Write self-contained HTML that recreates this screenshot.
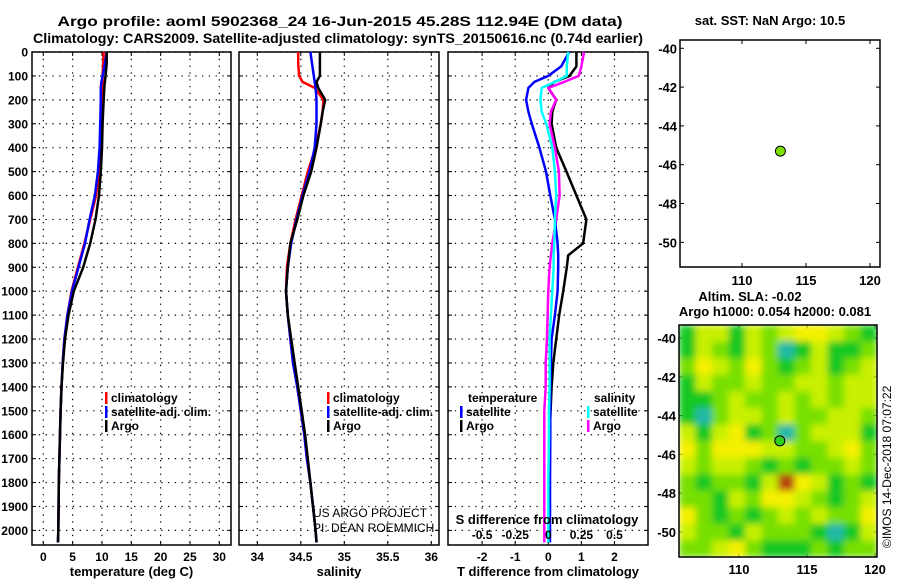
<!DOCTYPE html>
<html><head><meta charset="utf-8"><style>
html,body{margin:0;padding:0;background:#fff;}
svg{display:block;font-family:"Liberation Sans",sans-serif;}
.t{font-weight:bold;font-size:12px;}
</style></head><body>
<svg id="c" width="900" height="580" viewBox="0 0 900 580" xmlns="http://www.w3.org/2000/svg">
<defs>
<clipPath id="clipMap"><rect x="679" y="325" width="198" height="232"/></clipPath>
<filter id="blurMap" filterUnits="userSpaceOnUse" x="679" y="325" width="198" height="232"><feGaussianBlur stdDeviation="3.5" edgeMode="duplicate"/></filter>
</defs>
<text x="340" y="26" text-anchor="middle" font-size="14" font-weight="bold" textLength="565" lengthAdjust="spacingAndGlyphs">Argo profile: aoml 5902368_24 16-Jun-2015 45.28S 112.94E (DM data)</text>
<text x="338" y="43" text-anchor="middle" font-size="13.5" font-weight="bold" textLength="610" lengthAdjust="spacingAndGlyphs">Climatology: CARS2009. Satellite-adjusted climatology: synTS_20150616.nc (0.74d earlier)</text>
<g id="plots"></g>
</svg>
<script>
// ---- profile data ----
const depth = [0,50,100,125,150,200,250,300,400,500,600,700,800,900,1000,1100,1200,1300,1400,1500,1600,1700,1800,1900,2000,2050];
const tClim = [10.3,10.2,10.1,10.1,10.0,10.0,9.95,9.9,9.8,9.5,9.0,8.0,7.0,5.9,4.8,4.1,3.6,3.3,3.1,2.95,2.85,2.75,2.65,2.6,2.55,2.5];
const tSat  = [10.8,10.5,10.1,9.9,9.8,9.8,9.75,9.7,9.6,9.3,8.8,7.9,7.1,6.0,4.9,4.1,3.6,3.3,3.1,2.95,2.85,2.75,2.65,2.6,2.55,2.5];
const tArgo = [10.8,10.8,10.6,10.5,10.4,10.3,10.2,10.1,10.0,9.8,9.5,8.9,8.0,6.8,5.2,4.3,3.7,3.35,3.1,2.95,2.85,2.75,2.65,2.6,2.55,2.5];
const sClim = [34.47,34.47,34.48,34.52,34.66,34.76,34.75,34.73,34.67,34.58,34.51,34.44,34.38,34.34,34.33,34.35,34.38,34.41,34.46,34.5,34.54,34.57,34.61,34.64,34.67,34.68];
const sSat  = [34.61,34.63,34.65,34.66,34.67,34.68,34.68,34.68,34.66,34.6,34.52,34.45,34.39,34.35,34.33,34.35,34.38,34.41,34.46,34.5,34.54,34.57,34.61,34.64,34.67,34.68];
const sArgo = [34.72,34.72,34.72,34.68,34.70,34.78,34.75,34.73,34.68,34.62,34.53,34.46,34.38,34.35,34.33,34.35,34.39,34.43,34.47,34.51,34.55,34.58,34.61,34.64,34.67,34.68];
const depthDiff = [0,60,100,125,150,200,250,300,400,500,600,700,800,850,900,1000,1100,1200,1300,1400,1500,1600,1800,2000,2050];
const dTArgo = [0.85,0.85,0.64,0.18,0.0,0.24,0.12,0.1,0.24,0.55,0.85,1.15,1.05,0.6,0.56,0.45,0.33,0.24,0.15,0.1,0.07,0.04,0.02,0.01,0.0];
const dTSat  = [0.63,0.39,0.0,-0.42,-0.6,-0.67,-0.6,-0.5,-0.27,-0.07,0.06,0.2,0.28,0.3,0.3,0.28,0.2,0.1,0.08,0.06,0.06,0.06,0.05,0.05,0.05];
const dSSat  = [0.15,0.14,0.14,0.05,-0.05,-0.06,-0.05,-0.015,0.03,0.05,0.06,0.05,0.045,0.04,0.04,0.03,0.02,0.01,0.01,0.01,0.005,0.005,0.0,0.0,0.0];
const dSArgo = [0.27,0.25,0.23,0.12,0.0,0.06,0.02,0.01,0.05,0.08,0.085,0.06,0.03,0.02,0.01,0.0,-0.005,-0.01,-0.02,-0.02,-0.03,-0.03,-0.03,-0.03,-0.03];
const depthTicks = [0,100,200,300,400,500,600,700,800,900,1000,1100,1200,1300,1400,1500,1600,1700,1800,1900,2000];
const tTicks = [0,5,10,15,20,25,30];
const sTicks = [34,34.5,35,35.5,36];
const sTickLabels = ["34","34.5","35","35.5","36"];
const dtTicks = [-2,-1,0,1,2];
const dsTicks = [-0.5,-0.25,0,0.25,0.5];
const dsTickLabels = ["-0.5","-0.25","0","0.25","0.5"];
// ---- map data ----
const mapLonTicks = [110,115,120];
const mapLatTicks = [-40,-42,-44,-46,-48,-50];
const floatLon = 113;
const floatLat = -45.3;
const slaGrid = [
[1,3,3,1,3,2,3,4,4,3,2,1],
[1,3,2,1,3,2,0,1,3,1,1,2],
[2,4,3,2,4,2,1,2,3,1,2,3],
[1,3,2,2,3,2,2,3,3,2,3,3],
[1,1,2,3,2,2,3,2,3,2,3,3],
[1,0,2,3,3,2,3,2,2,3,3,2],
[3,1,3,4,1,2,0,2,3,3,3,1],
[4,2,4,4,4,3,3,2,2,3,4,2],
[3,2,3,3,2,1,2,1,2,2,3,2],
[2,1,2,2,1,3,6,4,3,1,2,1],
[2,2,1,3,2,4,4,3,2,1,2,3],
[4,2,1,2,1,2,3,2,3,2,2,4],
[3,2,2,1,3,2,2,2,1,0,1,3],
[2,2,3,4,2,1,1,1,2,1,2,2]];
const levelColors = ['#20b8a8','#18c820','#78e000','#c8f000','#f4f000','#f0a000','#b84010'];

const NS='http://www.w3.org/2000/svg';
const root=document.getElementById('plots');
function el(tag,attrs,parent,text){const e=document.createElementNS(NS,tag);for(const k in attrs)e.setAttribute(k,attrs[k]);if(text!==undefined)e.textContent=text;(parent||root).appendChild(e);return e;}
const Y0=52, YB=545, PXM=0.2392;
const yD=d=>Y0+d*PXM;

function panel(name,x0,x1,xs,ticks,labels,xlabel){
  const g=el('g',{});
  
  
  depthTicks.forEach(d=>{const l=el('line',{x1:x0,x2:x1,y1:yD(d),y2:yD(d),stroke:'#000','stroke-width':1.2,'stroke-dasharray':'1.3,5.5'},g);
    el('line',{x1:x0,x2:x0+4,y1:yD(d),y2:yD(d),stroke:'#000'},g);el('line',{x1:x1-4,x2:x1,y1:yD(d),y2:yD(d),stroke:'#000'},g);});
  ticks.forEach((t,i)=>{const x=xs(t);const l=el('line',{x1:x,x2:x,y1:Y0,y2:YB,stroke:'#000','stroke-width':1.2,'stroke-dasharray':'1.3,5.5'},g);
    el('line',{x1:x,x2:x,y1:YB-4,y2:YB,stroke:'#000'},g);el('line',{x1:x,x2:x,y1:Y0,y2:Y0+4,stroke:'#000'},g);
    if(labels){const tx=el('text',{x:x,y:561,'text-anchor':'middle',class:'t'},g,labels[i]);}});
  const r=el('rect',{x:x0,y:Y0,width:x1-x0,height:YB-Y0,fill:'none',stroke:'#000','stroke-width':1.5},g);
  
  if(xlabel){const tx=el('text',{x:(x0+x1)/2,y:576,'text-anchor':'middle',class:'t',style:'font-size:13px'},g,xlabel);}
  return g;
}
function line(g,xs,vals,ds,color,name){
  const pts=vals.map((v,i)=>xs(v).toFixed(1)+','+yD(ds[i]).toFixed(1)).join(' ');
  const p=el('polyline',{points:pts,fill:'none',stroke:color,'stroke-width':2.5,'stroke-linejoin':'round'},g);
  
  
}
function legend(g,x,y,items){
  items.forEach((it,i)=>{const yy=y+i*14;
    el('rect',{x:x,y:yy-10,width:2.5,height:12,fill:it[0]},g);
    const t=el('text',{x:x+6,y:yy,class:'t'},g,it[1]);});
}
depthTicks.forEach(d=>{const t=el('text',{x:28,y:yD(d)+4.5,'text-anchor':'end',class:'t'},root,String(d));});

const xT=v=>43.3+v*5.867;
const g1=panel('temperature-panel',32,231,xT,tTicks,tTicks.map(String),'temperature (deg C)');
line(g1,xT,tClim,depth,'#f00','temp-climatology-line');
line(g1,xT,tSat,depth,'#00f','temp-satellite-line');
line(g1,xT,tArgo,depth,'#000','temp-argo-line');
legend(g1,105,402,[['#f00','climatology'],['#00f','satellite-adj. clim.'],['#000','Argo']]);

const xS=v=>257.3+(v-34)*87;
const g2=panel('salinity-panel',239,439,xS,sTicks,sTickLabels,'salinity');
line(g2,xS,sClim,depth,'#f00','sal-climatology-line');
line(g2,xS,sSat,depth,'#00f','sal-satellite-line');
line(g2,xS,sArgo,depth,'#000','sal-argo-line');
legend(g2,327,402,[['#f00','climatology'],['#00f','satellite-adj. clim.'],['#000','Argo']]);
let tt=el('text',{x:313,y:517,'font-size':'12'},g2,'US ARGO PROJECT');
tt=el('text',{x:313,y:532,'font-size':'12'},g2,'PI: DEAN ROEMMICH');

const xDT=v=>548.3+v*33.1;
const xDS=v=>548.3+v*132.4;
const g3=panel('difference-panel',448,648,xDT,dtTicks,dtTicks.map(String),'T difference from climatology');
line(g3,xDT,dTArgo,depthDiff,'#000','tdiff-argo-line');
line(g3,xDS,dSArgo,depthDiff,'#f0f','sdiff-argo-line');
line(g3,xDT,dTSat,depthDiff,'#00f','tdiff-satellite-line');
line(g3,xDS,dSSat,depthDiff,'#0ff','sdiff-satellite-line');
tt=el('text',{x:468,y:402,class:'t'},g3,'temperature');
tt=el('text',{x:594,y:402,class:'t'},g3,'salinity');
legend(g3,460,416,[['#00f','satellite'],['#000','Argo']]);
legend(g3,587,416,[['#0ff','satellite'],['#f0f','Argo']]);
tt=el('text',{x:547,y:524,'text-anchor':'middle',class:'t',style:'font-size:13px'},g3,'S difference from climatology');
dsTicks.forEach((v,i)=>{const t=el('text',{x:xDS(v),y:539,'text-anchor':'middle',class:'t'},g3,dsTickLabels[i]);});

function mapAxes(name,x0,x1,y0,y1,lonS,latS,labY){
  const g=el('g',{});
  
  
  mapLonTicks.forEach(v=>{const x=lonS(v);el('line',{x1:x,x2:x,y1:y1-4,y2:y1,stroke:'#000'},g);el('line',{x1:x,x2:x,y1:y0,y2:y0+4,stroke:'#000'},g);
    const t=el('text',{x:x,y:labY,'text-anchor':'middle',class:'t',style:'font-size:13px'},g,String(v));});
  mapLatTicks.forEach(v=>{const y=latS(v);if(y<y0||y>y1)return;el('line',{x1:x0,x2:x0+4,y1:y,y2:y,stroke:'#000'},g);el('line',{x1:x1-4,x2:x1,y1:y,y2:y,stroke:'#000'},g);
    const t=el('text',{x:x0-3,y:y+5,'text-anchor':'end',class:'t',style:'font-size:13px'},g,String(v));});
  return g;
}
const lon1=v=>742+(v-110)*12.8, lat1=v=>48.3+(-40-v)*19.4;
const m1=mapAxes('sst-map',680,880,40,267,lon1,lat1,285);
let fr=el('rect',{x:680,y:40,width:200,height:227,fill:'none',stroke:'#000','stroke-width':1.5},m1);
let dot=el('circle',{cx:lon1(floatLon),cy:lat1(floatLat),r:5,fill:'#7ee000',stroke:'#000','stroke-width':1},m1);
tt=el('text',{x:770,y:25,'text-anchor':'middle',class:'t',style:'font-size:13px'},m1,'sat. SST: NaN Argo: 10.5');

const lon2=v=>739+(v-110)*13.6, lat2=v=>338+(-40-v)*19.4;
const m2=mapAxes('sla-map',679,877,325,557,lon2,lat2,574);
const hm=el('g',{filter:'url(#blurMap)','clip-path':'url(#clipMap)'},m2);


const rows=slaGrid.length, cols=slaGrid[0].length, cw=198/cols, ch=232/rows;
slaGrid.forEach((row,r)=>row.forEach((v,c)=>{const cell=el('rect',{x:679+c*cw,y:325+r*ch,width:cw+0.5,height:ch+0.5,fill:levelColors[v]},hm);
  
  }));
fr=el('rect',{x:679,y:325,width:198,height:232,fill:'none',stroke:'#000','stroke-width':1.5},m2);
dot=el('circle',{cx:lon2(floatLon),cy:lat2(floatLat),r:5,fill:'#30d020',stroke:'#000','stroke-width':1},m2);
tt=el('text',{x:750,y:301,'text-anchor':'middle',class:'t',style:'font-size:13px'},m2,'Altim. SLA: -0.02');
tt=el('text',{x:775,y:316,'text-anchor':'middle',class:'t',style:'font-size:13px'},m2,'Argo h1000: 0.054 h2000: 0.081');
tt=el('text',{x:891,y:548,transform:'rotate(-90 891 548)','font-size':'12'},root,'©IMOS 14-Dec-2018 07:07:22');
</script>
</body></html>
